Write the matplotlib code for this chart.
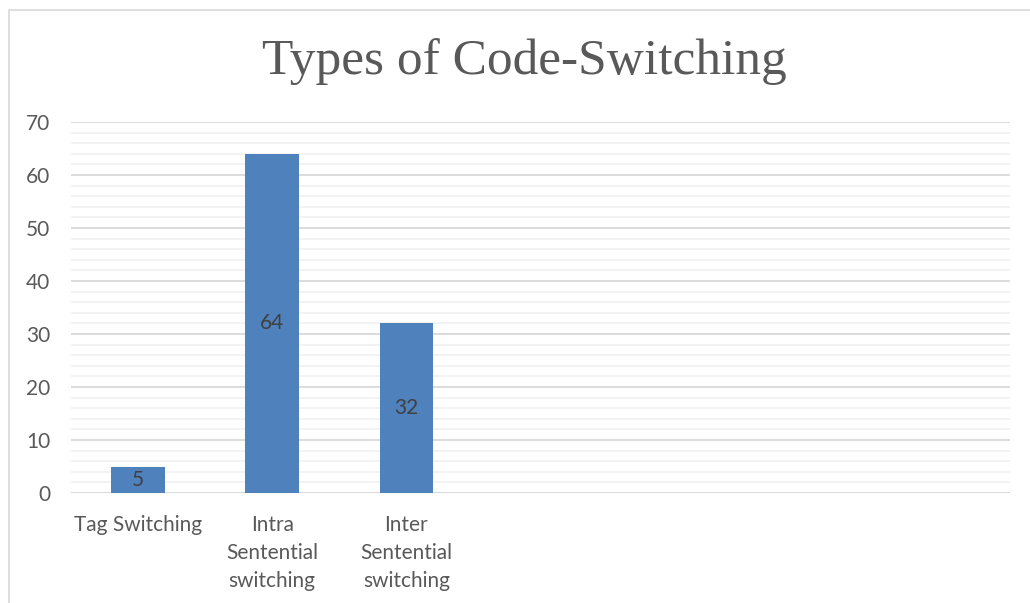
import matplotlib.pyplot as plt
from matplotlib.patches import Rectangle
from matplotlib.ticker import MultipleLocator

# chart data
categories = ['Tag Switching', 'Intra\nSentential\nswitching', 'Inter\nSentential\nswitching']
counts = [5, 64, 32]
n_slots = 7  # the axis has room for 7 categories, only 3 are used
yticks = [0, 10, 20, 30, 40, 50, 60, 70]

text_grey = '#595959'
bar_blue = '#4F81BD'

fig = plt.figure(figsize=(10.3, 6.03), dpi=100)
W, H = 1030, 603

# chart border
fig.patches.append(Rectangle((9 / W, -0.1), 1.2, (1 - 10 / H) + 0.1,
                             transform=fig.transFigure, fill=False,
                             edgecolor='#D9D9D9', linewidth=1.2))

ax = fig.add_axes([71 / W, 1 - 493 / H, (1010 - 71) / W, (493 - 122) / H])

x = list(range(len(categories)))
bars = ax.bar(x, counts, width=0.4, color=bar_blue, zorder=3)

# value labels centred in bars
for b, v in zip(bars, counts):
    ax.text(b.get_x() + b.get_width() / 2, v / 2, str(v), ha='center', va='center',
            color='#404040', fontsize=15, family='Lato', zorder=4)

ax.set_xlim(-0.5, n_slots - 0.5)
ax.set_ylim(0, 70)
ax.set_yticks(yticks)
ax.yaxis.set_minor_locator(MultipleLocator(2))
ax.set_xticks(x)
ax.set_xticklabels(categories, linespacing=1.5)

ax.grid(axis='y', which='major', color='#D9D9D9', linewidth=1.3, zorder=0)
ax.grid(axis='y', which='minor', color='#F2F2F2', linewidth=1.3, zorder=0)
for s in ax.spines.values():
    s.set_visible(False)
ax.axhline(0, color='#D9D9D9', linewidth=1.3, zorder=2)

ax.tick_params(axis='both', which='both', length=0)
ax.tick_params(axis='y', pad=15, labelsize=15, labelcolor=text_grey)
ax.tick_params(axis='x', pad=16, labelsize=15, labelcolor=text_grey)
for lbl in ax.get_xticklabels() + ax.get_yticklabels():
    lbl.set_family('Lato')

fig.text(524 / W, 1 - 62 / H, 'Types of Code-Switching', ha='center', va='center',
         fontsize=37, family='Liberation Serif', color=text_grey)

fig.savefig('out.png', dpi=100)
